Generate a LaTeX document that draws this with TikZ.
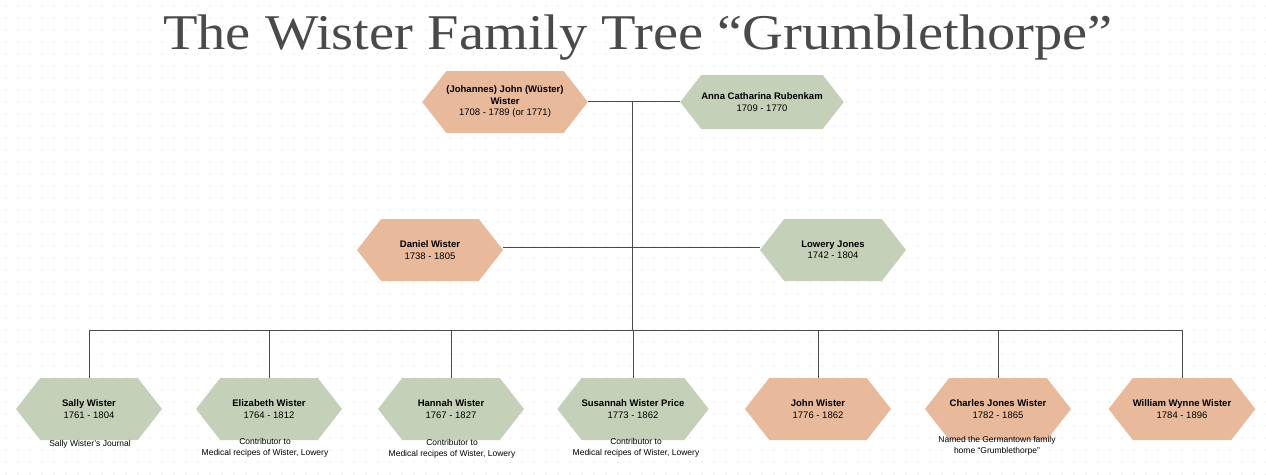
\documentclass[tikz,border=0pt]{standalone}
\usepackage{fontspec}
\setmainfont{Liberation Serif}
\setsansfont{Liberation Sans}
\usetikzlibrary{shapes.symbols}
\definecolor{peach}{HTML}{E8B99A}
\definecolor{sage}{HTML}{C5D0B8}
\definecolor{ink}{HTML}{4A4A4A}
\tikzset{
  person/.style={signal, signal to=west and east, signal pointer angle=104,
    minimum width=146pt, minimum height=62pt, inner sep=0pt,
    font=\sffamily\fontsize{9.5}{11.5}\selectfont, align=center, text=black},
  note/.style={font=\sffamily\fontsize{8.5}{11}\selectfont, align=center},
  link/.style={draw=ink, line width=0.8pt}
}
\begin{document}
\begin{tikzpicture}[x=1pt,y=-1pt]
\useasboundingbox (0,0) rectangle (1266,474);
%dotted background
\foreach \i in {0,...,105}
  \foreach \j in {0,...,39}
    \fill[black!20] (6+12*\i,6+12*\j) circle (0.7pt);
%title
\node[text=ink, font=\fontsize{50}{54}\selectfont, xscale=1.13] (title) at (638,38)
  {The Wister Family Tree “Grumblethorpe”};
%first generation
\node[person, fill=peach] (johannes) at (505,102)
  {\textbf{(Johannes) John (Wüster)}\\\textbf{Wister}\\1708 - 1789 (or 1771)};
\node[person, fill=sage, minimum height=54pt] (anna) at (762,102)
  {\textbf{Anna Catharina Rubenkam}\\1709 - 1770};
%second generation
\node[person, fill=peach] (daniel) at (430,250) {\textbf{Daniel Wister}\\1738 - 1805};
\node[person, fill=sage] (lowery) at (833,250) {\textbf{Lowery Jones}\\1742 - 1804};
%children
\node[person, fill=sage] (sally) at (89,409) {\textbf{Sally Wister}\\1761 - 1804};
\node[person, fill=sage] (elizabeth) at (269,409) {\textbf{Elizabeth Wister}\\1764 - 1812};
\node[person, fill=sage] (hannah) at (451,409) {\textbf{Hannah Wister}\\1767 - 1827};
\node[person, fill=sage] (susannah) at (633,409) {\textbf{Susannah Wister Price}\\1773 - 1862};
\node[person, fill=peach] (john) at (818,409) {\textbf{John Wister}\\1776 - 1862};
\node[person, fill=peach] (charles) at (998,409) {\textbf{Charles Jones Wister}\\1782 - 1865};
\node[person, fill=peach] (william) at (1182,409) {\textbf{William Wynne Wister}\\1784 - 1896};
%notes
\node[note] (n1) at (90,444) {Sally Wister’s Journal};
\node[note] (n2) at (265,448) {Contributor to\\Medical recipes of Wister, Lowery};
\node[note] (n3) at (452,449) {Contributor to\\Medical recipes of Wister, Lowery};
\node[note] (n4) at (636,448) {Contributor to\\Medical recipes of Wister, Lowery};
\node[note] (n6) at (997,446) {Named the Germantown family\\home “Grumblethorpe”};
%connectors
\coordinate (top) at (632,101);
\coordinate (mid) at (632,247);
\coordinate (bus) at (632,330);
\draw[link] (johannes.east |- top) -- (anna.west |- top);
\draw[link] (daniel.east |- mid) -- (lowery.west |- mid);
\draw[link] (top) -- (bus);
\draw[link] (sally.north |- bus) -- (william.north |- bus);
\foreach \c in {sally,elizabeth,hannah,susannah,john,charles,william}
  \draw[link] (\c.north |- bus) -- (\c.north);
\end{tikzpicture}
\end{document}
